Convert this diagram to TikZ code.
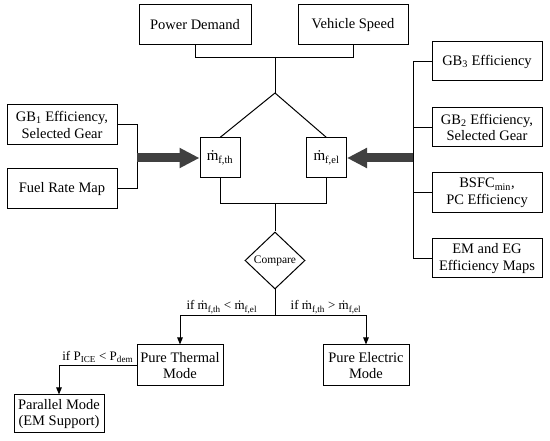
\documentclass[tikz,border=0pt]{standalone}
\usepackage{fontspec}
\setmainfont{Liberation Serif}
\usepackage{tikz}
\usetikzlibrary{arrows.meta,shapes.geometric}
\definecolor{arrowgray}{HTML}{404040}

\begin{document}
\begin{tikzpicture}[x=1pt,y=-1pt,
    box/.style={draw, line width=1pt, minimum width=110pt, minimum height=40pt,
        inner sep=0pt, align=center, font=\fontsize{14.5}{16.5}\selectfont},
    mbox/.style={box, minimum width=40pt},
    decide/.style={draw, line width=1pt, diamond, minimum width=60pt, minimum height=57pt,
        inner sep=0pt, font=\fontsize{11.5}{13}\selectfont},
    link/.style={line width=1pt},
    flow/.style={line width=1pt, -{Triangle[length=7pt,width=5.5pt]}},
    bigarrow/.style={arrowgray, line width=9pt, -{Triangle[length=20pt,width=19pt]}},
    cond/.style={font=\fontsize{13}{15}\selectfont, inner sep=2pt}]
    \useasboundingbox (0,0) rectangle (550,441);
    % inputs on top
    \node[box, minimum width=112pt] (pd) at (195,25) {Power Demand};
    \node[box] (vs) at (353,25) {Vehicle Speed};
    % left inputs
    \node[box] (gb1) at (62,125) {GB\textsubscript{1} Efficiency,\\Selected Gear};
    \node[box] (frm) at (62,189) {Fuel Rate Map};
    % right inputs
    \node[box, minimum height=39pt] (gb3) at (487,61.5) {GB\textsubscript{3} Efficiency};
    \node[box, minimum height=39pt] (gb2) at (487,127.5) {GB\textsubscript{2} Efficiency,\\Selected Gear};
    \node[box] (bsfc) at (487,193) {BSFC\textsubscript{min},\\PC Efficiency};
    \node[box, minimum height=39pt] (emeg) at (487,258.5) {EM and EG\\Efficiency Maps};
    % fuel rates
    \node[mbox, font=\fontsize{15}{17}\selectfont] (mth) at (220,158) {ṁ\textsubscript{f,th}};
    \node[mbox, font=\fontsize{15}{17}\selectfont] (mel) at (326.5,158) {ṁ\textsubscript{f,el}};
    \node[decide] (cmp) at (275,260.5) {Compare};
    % modes
    \node[box, minimum width=86pt, minimum height=41pt] (pt) at (180,365.5) {Pure Thermal\\Mode};
    \node[box, minimum width=86pt, minimum height=41pt] (pe) at (366,365.5) {Pure Electric\\Mode};
    \node[box, minimum width=90pt, minimum height=38pt] (pm) at (59,414) {Parallel Mode\\(EM Support)};
    % junctions
    \coordinate (top) at (275,58);
    \coordinate (apex) at (275,93);
    \coordinate (bot) at (275,204);
    \coordinate (lj) at (137,158);
    \coordinate (rj) at (413,158);
    \coordinate (br) at (275,316);

    \draw[link] (pd.south) |- (top);
    \draw[link] (vs.south) |- (top);
    \draw[link] (top) -- (apex);
    \draw[link] (apex) -- (mth.north);
    \draw[link] (apex) -- (mel.north);
    \draw[link] (gb1.east) -| (lj);
    \draw[link] (frm.east) -| (lj);
    \draw[link] (gb3.west) -| (rj);
    \draw[link] (gb2.west) -| (rj);
    \draw[link] (bsfc.west) -| (rj);
    \draw[link] (emeg.west) -| (rj);
    \draw[bigarrow] (lj) -- (mth.west);
    \draw[bigarrow] (rj) -- (mel.east);
    \draw[link] (mth.south) |- (bot);
    \draw[link] (mel.south) |- (bot);
    \draw[link] (bot) -- (cmp.north);
    \draw[link] (cmp.south) -- (br);
    \draw[flow] (br) -| node[cond, pos=0.28, above] {if ṁ\textsubscript{f,th} < ṁ\textsubscript{f,el}} (pt.north);
    \draw[flow] (br) -| node[cond, pos=0.28, above] {if ṁ\textsubscript{f,th} > ṁ\textsubscript{f,el}} (pe.north);
    \draw[flow] (pt.west) -| node[cond, pos=0.25, above] {if P\textsubscript{ICE} < P\textsubscript{dem}} (pm.north);
\end{tikzpicture}
\end{document}
